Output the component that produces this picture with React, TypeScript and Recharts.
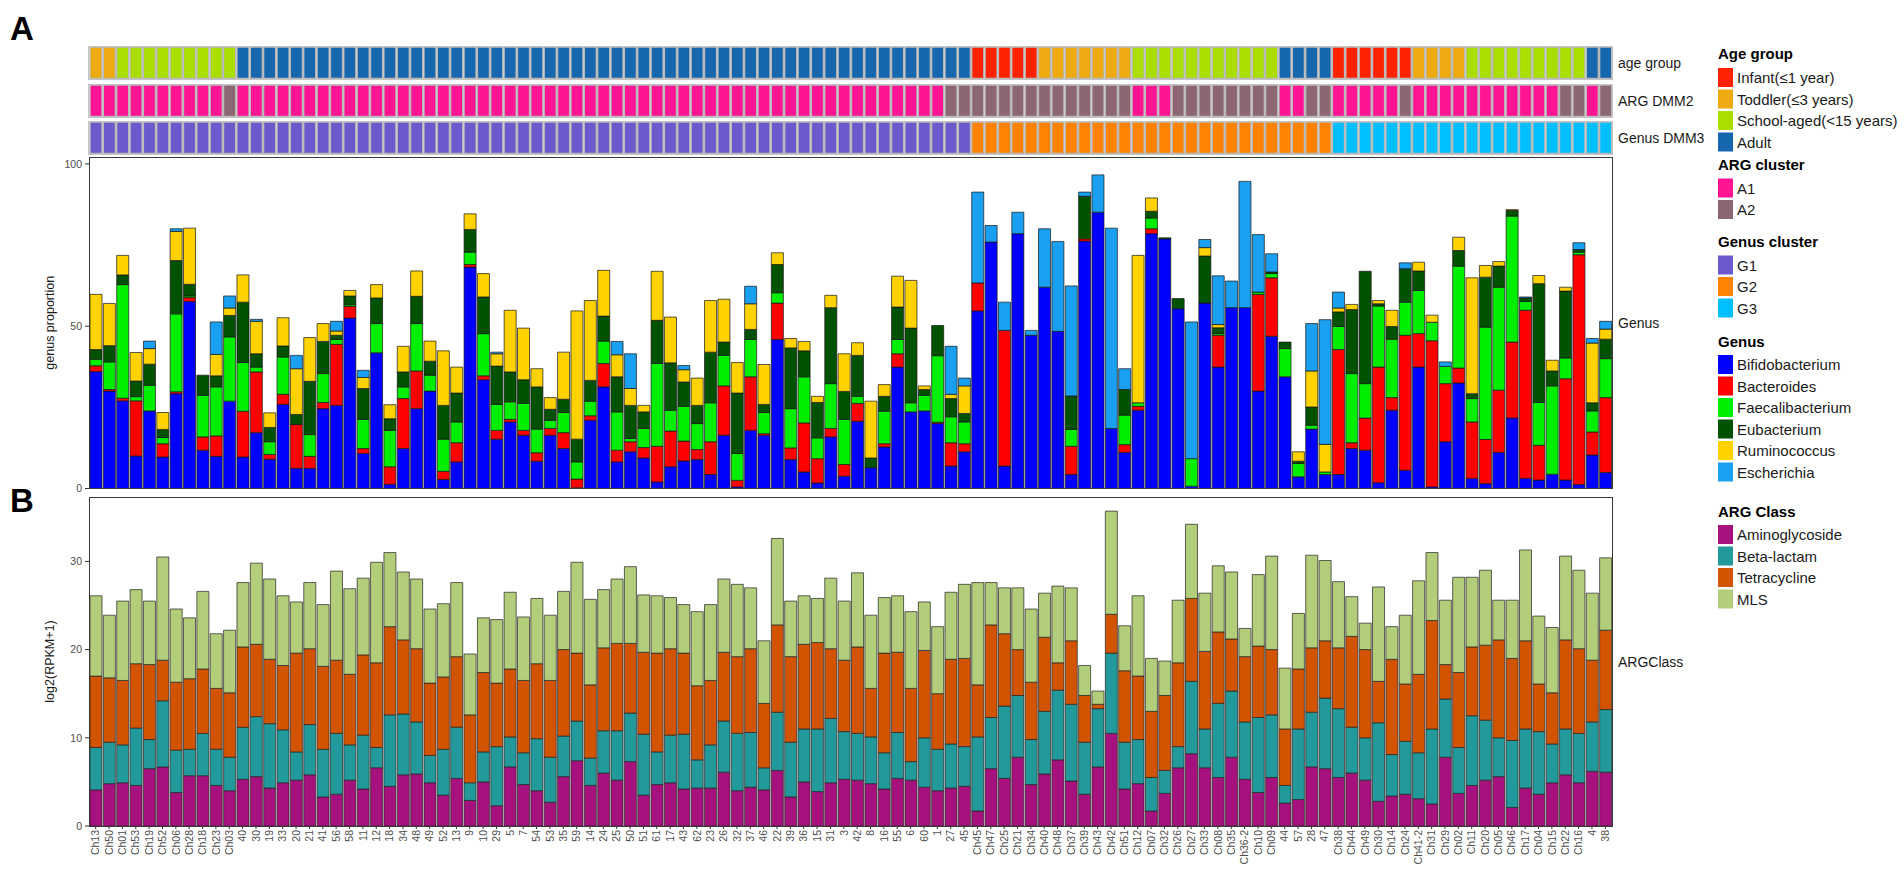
import React from 'react';
import { BarChart, Bar, XAxis, YAxis, Cell } from 'recharts';

const FONT = "'Liberation Sans', Arial, Helvetica, sans-serif";

// ---------------- data ----------------
const samples = ['Ch13','Ch50','Ch01','Ch53','Ch19','Ch52','Ch06','Ch28','Ch18','Ch23','Ch03','40','30','19','33','20','21','41','56','58','11','12','18','34','48','49','52','13','9','10','29','5','7','54','53','35','59','14','24','25','50','51','61','17','43','62','23','26','32','37','46','22','39','36','15','31','3','42','8','16','55','6','60','1','27','45','Ch45','Ch47','Ch25','Ch21','Ch34','Ch40','Ch48','Ch37','Ch39','Ch43','Ch42','Ch51','Ch12','Ch07','Ch32','Ch26','Ch27','Ch33','Ch08','Ch35','Ch36-2','Ch10','Ch09','44','57','28','47','Ch38','Ch44','Ch49','Ch30','Ch14','Ch24','Ch41-2','Ch31','Ch29','Ch02','Ch11','Ch20','Ch05','Ch46','Ch17','Ch04','Ch15','Ch22','Ch16','4','38'];

// age group codes: I Infant, T Toddler, S School-aged, A Adult
const ageGroupCodes = 'TT SSSSSSSSS AAAAAAAAAA AAAAAAAAAA AAAAAAAAAA AAAAAAAAAA AAAAAAAAAA AAAAA IIIII TTTTTTT SSSSSSSSSSS AAAA IIIIII TTTT SSSSSSSSS AA';
// ARG DMM2 cluster codes: 1 = A1, 2 = A2
const argClusterCodes = '1111111111 2 1111111111 1111111111 1111111111 1111111111 1111111111 111 22222222222222 111 22222222 11 22 11111 2 11111111111 22 1 2';
// Genus DMM3 cluster codes
const genusClusterCodes = '1111111111 1111111111 1111111111 1111111111 1111111111 1111111111 111111 2222222222 2222222222 2222222 3333333333 3333333333 3';

const bifidobacterium = [36,30,27,10,23.9,9.7,29.2,57.6,11.8,9.9,26.9,9.7,17.2,9,25.9,6.2,6.2,24.6,25.6,52.5,10.8,41.8,1.3,12.3,24.6,30,2.8,8.2,68.2,33.5,15.2,20.5,16.4,8.4,16.4,12.3,0.2,21,31.3,8.2,11.3,9.4,2,6.7,8.5,8.9,4.3,16.4,0.5,17.9,16.4,45.9,8.9,5.1,1.7,15.9,3.8,20.7,6.4,12.8,37.4,23.6,23.9,20,6.9,11.3,54.7,75.9,6.9,78.5,47.2,62,48.4,4.3,76.2,85.1,18.5,11.1,24.1,78.5,76.9,55.4,0.7,57.1,37.4,55.7,55.7,30,46.9,34.4,3.6,18.3,4.3,4.3,12.3,11.8,1.8,24.1,5.6,37.4,0.5,14.4,32.5,3.1,1.5,11.1,21.7,3.1,2.6,4.4,2.6,1.2,10.3,4.9];
const bacteroides = [1.8,0.5,0.8,17,0,4.1,0.6,1.2,4.1,6.3,0,14.1,18.7,1.5,3.1,13.5,3.7,1.9,18.8,3.6,1.5,0,5.4,15.4,11.6,0,2.5,5.9,0.8,1.2,2.7,0.8,1.5,2.6,2.1,4.9,2.7,1.4,7.2,3.6,3.1,3.2,11,11,6.1,3.1,10.1,15.2,2,16.5,0.5,11.2,3.6,15.1,7.5,2.6,3.6,5.5,0,1,4.1,0,0,0.4,7.2,2.5,8.6,0,41.8,0,0,0,0,8.7,0.7,0,0,2.4,1.2,1.5,0,0,0,0,9.8,0,0,29.8,18,0,0,0,0,38.5,1.8,9.9,35.6,3.9,41.6,10.3,45,17.9,4.6,17.4,13.6,19.2,23.4,51.8,10.7,0,31.2,70.8,7.1,23.1];
const faecalibacterium = [2,8.5,35,1.3,7.9,1.9,24,0.5,12.8,15.1,19.8,15,1.5,3.9,11.5,0,6.7,8.9,1.5,0.5,9,9,11.2,3.6,14.6,4.9,9.9,6.4,3.8,13,8,5.4,8.3,7.3,2.5,6.2,5.3,4.5,6.9,11.8,1,5.9,25.5,6.4,10.7,8,12,9.4,8.3,11.5,6.5,3.2,12.1,14.2,6.4,13.8,13.9,2.2,0,10,4.4,2.8,4.8,20.5,8,6.7,0,0,0,0,0,0,0,5.2,0,0,0,9.1,1.1,3.3,0,0,8.5,0,0.5,0,0,0.7,1.3,8.7,4.1,1.2,0.8,7.1,21.3,10.6,18.8,18,10.2,13.3,5.7,5.3,31.4,7.2,34.6,31.7,38.8,2.7,13.2,27.2,6.4,0.8,6.5,12];
const eubacterium = [3,5,3,4.8,6.5,2.5,16.4,3.6,6.2,3.4,6.6,18.6,4.1,4.4,3.4,3.1,16.4,9.9,1.3,2.7,9.5,7.9,3.6,4.6,8.4,4.3,10.4,8.9,7,11.3,11.8,9.2,7.3,13,3.4,4.1,7,6.4,7.7,10.8,10.2,5.1,13.3,14.6,7.5,5.6,15.6,4.1,18.6,3.1,2.5,8.7,18.7,8,10.9,23.4,8.6,12.6,3,4.6,10,23,1.8,9.3,5.6,2.6,0,0,0,0,0,0,0,10.3,13.1,0,0,7.9,0,2.1,0.3,3.1,0,14.5,1.8,0,0,0,0.5,2,0.7,5.6,0,4.5,19.7,34.6,0.7,3.9,10.3,6,0,0,4.8,1.5,15.4,6.5,1.7,1.1,36.6,4.6,20.6,0.8,2.5,6];
const ruminococcus = [17,13,6,8.8,4.8,5.2,9,17.3,0,6.6,2.3,8.4,10,4.5,8.7,14.1,13.5,5.5,1.3,1.7,3.4,4.1,4.3,7.9,7.8,6.2,16.8,8,4.8,7.2,3.8,19,15.9,5.6,3.6,14.5,39.5,24.6,14.1,6.8,5.2,2,15.1,14.1,3.8,8.4,15.9,13.2,9.4,7.9,12.3,3.6,2.9,2.9,1.9,3.8,11.6,3.9,17.5,3.6,9.5,14.7,1.1,0,1.3,8.5,0,0,0,0,0,0,0,0,0,0,0,0,45.4,4.1,0,0,0,2.6,1,0,0,0,0,0,2.9,11.1,8.5,1.2,1.6,0,1,5,0,2.7,2.2,0,4.1,35.7,3.6,1.4,0.3,0,2.5,3.3,1.2,0,18.4,3.1];
const escherichia = [0,0,0,0,2.3,0,0.8,0,0,10,3.7,0,0.6,0,0,4.1,0,0,3,0,2.2,0,0,0,0,0,0,0,0,0,0.5,0,0,0,0,0,0,0,0,4.1,10.7,0,0,0,1.3,0,0,0,0,5.4,0,0,0,0,0,0,0,0,0,0,0,0,0,0,14.8,2.4,28,5.1,8.7,6.6,1.5,18,27.7,33.9,1.3,11.5,61.7,6.4,0,0,0,0,42.1,2.5,15,8.2,38.9,17.7,5.6,0,0,14.6,38.4,4.9,0,0,0,0,1.8,0,0,1.4,0,0,0,0,0,0.3,0,0,0,2.1,1.4,2.4];

const aminoglycoside = [4.1,4.8,4.9,4.6,6.5,6.7,3.8,5.7,5.7,4.6,4.0,5.3,5.6,4.3,4.9,5.2,5.8,3.3,3.6,5.2,4.2,6.6,4.5,5.8,5.9,4.9,3.5,5.4,2.9,5.0,2.3,6.7,4.7,4.0,2.7,5.6,7.4,4.6,6.0,5.2,7.3,3.5,4.7,4.9,4.2,4.3,4.3,6.1,4.0,4.4,4.1,6.3,3.3,5.0,3.9,4.9,5.3,5.2,4.8,4.2,5.4,5.2,4.4,4.0,4.3,4.5,1.7,6.5,5.4,7.8,4.7,5.9,7.5,5.1,3.6,6.7,10.5,4.2,4.8,1.7,3.7,6.6,8.2,6.6,5.5,7.8,5.3,3.8,5.5,2.6,3.0,6.7,6.5,5.5,6.0,5.2,2.8,3.4,3.6,3.1,2.5,7.8,3.7,4.6,5.2,5.6,2.1,4.3,3.6,4.9,5.8,4.9,6.2,6.1];
const betaLactam = [4.8,4.7,4.3,6.5,3.3,7.5,4.8,3.0,4.8,4.1,3.8,5.9,6.8,7.3,6.0,3.2,5.7,5.4,6.9,4.0,6.1,2.3,8.1,6.9,5.9,3.1,5.2,5.8,2.0,3.4,6.7,3.4,3.6,5.9,5.1,4.6,4.5,3.1,4.8,5.6,5.5,6.9,3.7,5.4,6.2,3.2,4.9,5.8,6.5,6.2,2.5,6.6,6.2,6.0,7.1,7.3,5.4,5.3,5.3,4.1,5.2,2.1,5.6,4.7,5.0,4.5,8.4,5.8,8.2,7.0,5.1,7.1,7.9,8.7,5.9,6.6,9.1,5.3,5.0,3.8,2.6,2.4,8.2,4.4,8.4,7.5,6.5,8.5,7.1,2.0,8.0,6.2,8.0,7.8,5.2,4.8,8.9,4.7,6.0,5.2,8.5,6.6,5.2,7.9,6.8,4.4,7.6,6.7,7.1,4.4,5.2,5.6,5.6,7.1];
const tetracycline = [8.1,7.3,7.3,7.3,8.5,4.6,7.7,8.0,7.3,6.9,7.3,9.1,8.2,7.3,7.3,11.2,8.6,9.4,8.3,8.0,9.1,9.6,10.0,8.4,8.3,8.2,8.2,8.0,7.7,9.0,7.2,7.7,8.2,8.5,8.7,9.8,7.7,8.3,9.4,9.9,7.9,9.3,11.2,9.8,9.2,8.4,7.3,7.8,8.7,9.5,7.3,9.9,9.7,9.6,9.8,7.9,8.1,9.8,5.5,11.3,9.1,8.3,9.9,6.3,9.6,10.0,5.9,10.5,8.2,5.2,6.5,8.4,3.1,7.2,5.3,0.5,4.4,8.1,7.2,7.5,8.5,9.5,9.4,8.8,8.1,5.9,7.4,8.1,7.4,6.4,6.8,7.3,6.5,6.9,10.3,10.0,4.7,10.8,6.5,8.9,12.3,3.9,8.5,7.8,8.5,11.1,9.3,10.0,5.4,5.8,10.1,9.6,7.0,9.0];
const mls = [9.1,7.1,9.0,8.4,7.2,11.7,8.3,6.9,8.8,6.2,7.1,7.3,9.2,9.1,7.9,5.8,7.5,7.0,10.1,9.7,8.7,11.4,8.4,7.7,7.9,8.4,8.3,8.4,6.9,6.2,7.2,8.7,7.2,7.4,7.4,6.6,10.3,9.7,6.6,7.3,8.7,6.5,6.5,5.8,5.5,8.4,8.6,8.3,8.2,6.9,7.1,9.8,6.3,5.5,5.0,8.0,6.7,8.4,8.3,6.3,6.4,8.7,5.5,7.6,7.6,8.4,11.6,4.8,5.2,7.0,8.3,5.0,8.7,6.0,3.4,1.5,11.7,5.1,9.1,6.0,3.9,7.1,8.4,6.6,7.5,7.6,3.2,8.1,10.6,6.9,6.3,10.5,9.1,7.5,4.5,3.0,10.7,3.7,7.8,10.6,7.7,7.3,10.8,7.9,8.5,4.5,6.6,10.3,7.7,7.4,9.5,8.9,7.6,8.2];

const genusTicks = [0, 50, 100];
const argTicks = [0, 10, 20, 30];

// legend categories & colours
const ageLegend = [
  { code: 'I', label: 'Infant(≤1 year)', color: '#FF2200' },
  { code: 'T', label: 'Toddler(≤3 years)', color: '#EEAA11' },
  { code: 'S', label: 'School-aged(<15 years)', color: '#AADD00' },
  { code: 'A', label: 'Adult', color: '#1767AF' },
];
const argClusterLegend = [
  { code: '1', label: 'A1', color: '#FF1493' },
  { code: '2', label: 'A2', color: '#8C6670' },
];
const genusClusterLegend = [
  { code: '1', label: 'G1', color: '#6A5ACD' },
  { code: '2', label: 'G2', color: '#FF8300' },
  { code: '3', label: 'G3', color: '#00BFFF' },
];
const genusLegend = [
  { key: 'Bifidobacterium', values: bifidobacterium, color: '#0000FF' },
  { key: 'Bacteroides', values: bacteroides, color: '#FF0000' },
  { key: 'Faecalibacterium', values: faecalibacterium, color: '#00EE00' },
  { key: 'Eubacterium', values: eubacterium, color: '#005200' },
  { key: 'Ruminococcus', values: ruminococcus, color: '#FFD200' },
  { key: 'Escherichia', values: escherichia, color: '#1AA0F0' },
];
const argClassLegend = [
  { key: 'Aminoglycoside', values: aminoglycoside, color: '#A6117E' },
  { key: 'Beta-lactam', values: betaLactam, color: '#22999A' },
  { key: 'Tetracycline', values: tetracycline, color: '#D25400' },
  { key: 'MLS', values: mls, color: '#B3CE7B' },
];

// ---------------- layout ----------------
const W = 1904;
const H = 871;
const PLOT_L = 89;
const PLOT_R = 1612;
const PLOT_W = PLOT_R - PLOT_L;
const CHART_W = 1620;
const ROW_H = 31.5;
const ROW_TOPS = [47, 85, 122];
const A_TOP = 157.5;
const A_BOT = 488;
const B_TOP = 497;
const B_BOT = 826;
const X_AXIS_H = 45;
const BAR_SIZE = PLOT_W / samples.length;

const codes = (s: string) => s.replace(/\s+/g, '').split('');

function AnnoRow({ top, codeStr, legend }: { top: number; codeStr: string; legend: { code: string; color: string }[] }) {
  const cs = codes(codeStr);
  const data = samples.map((s, i) => ({ sample: s, one: 1, code: cs[i] }));
  const colorOf = (c: string) => (legend.find((l) => l.code === c) || legend[0]).color;
  return (
    <div style={{ position: 'absolute', left: 0, top, width: CHART_W, height: ROW_H }}>
      <BarChart width={CHART_W} height={ROW_H} data={data} margin={{ top: 0, right: CHART_W - PLOT_R, bottom: 0, left: PLOT_L }} barCategoryGap={0} barGap={0}>
        <XAxis dataKey="sample" hide />
        <YAxis hide domain={[0, 1]} />
        <Bar dataKey="one" isAnimationActive={false} stroke="#b9b9b9" strokeWidth={1.3} barSize={BAR_SIZE}>
          {data.map((d, i) => (
            <Cell key={i} fill={colorOf(d.code)} />
          ))}
        </Bar>
      </BarChart>
      <div style={{ position: 'absolute', left: PLOT_L - 1, top: -1, width: PLOT_W + 2, height: ROW_H + 2, border: '1.5px solid #c4c4c4', boxSizing: 'border-box', pointerEvents: 'none' }} />
    </div>
  );
}

const XTick = (props: any) => {
  const { x, y, payload } = props;
  return (
    <g transform={`translate(${x},${y})`}>
      <text x={0} y={0} dy="0.35em" textAnchor="end" transform="rotate(-90)" fontSize={10.5} fill="#4d4d4d" fontFamily={FONT}>
        {payload.value}
      </text>
    </g>
  );
};

function Box({ top, bottom }: { top: number; bottom: number }) {
  return <div style={{ position: 'absolute', left: PLOT_L - 0.5, top: top - 0.5, width: PLOT_W + 1, height: bottom - top + 1, border: '1px solid #3a3a3a', boxSizing: 'border-box', pointerEvents: 'none' }} />;
}

export default function App() {
  const genusData = samples.map((s, i) => {
    const row: any = { sample: s };
    genusLegend.forEach((g) => (row[g.key] = g.values[i]));
    return row;
  });
  const argData = samples.map((s, i) => {
    const row: any = { sample: s };
    argClassLegend.forEach((g) => (row[g.key] = g.values[i]));
    return row;
  });

  const tickStyle = { fontSize: 10.5, fill: '#4d4d4d', fontFamily: FONT };

  const legendBlocks = [
    { title: 'Age group', titleY: 53.5, firstY: 77.5, items: ageLegend.map((a) => ({ label: a.label, color: a.color })) },
    { title: 'ARG cluster', titleY: 164, firstY: 188, items: argClusterLegend.map((a) => ({ label: a.label, color: a.color })) },
    { title: 'Genus cluster', titleY: 241.5, firstY: 265, items: genusClusterLegend.map((a) => ({ label: a.label, color: a.color })) },
    { title: 'Genus', titleY: 341, firstY: 364.5, items: genusLegend.map((a) => ({ label: a.key, color: a.color })) },
    { title: 'ARG Class', titleY: 511, firstY: 534.5, items: argClassLegend.map((a) => ({ label: a.key, color: a.color })) },
  ];
  const PITCH = 21.5;
  const GAP_A = 8; // extra room below panel A so its "0" label is not clipped

  return (
    <div style={{ position: 'absolute', left: 0, top: 0, width: W, height: H, background: '#ffffff', overflow: 'hidden', fontFamily: FONT }}>
      <AnnoRow top={ROW_TOPS[0]} codeStr={ageGroupCodes} legend={ageLegend} />
      <AnnoRow top={ROW_TOPS[1]} codeStr={argClusterCodes} legend={argClusterLegend} />
      <AnnoRow top={ROW_TOPS[2]} codeStr={genusClusterCodes} legend={genusClusterLegend} />

      <div style={{ position: 'absolute', left: 0, top: A_TOP }}>
        <BarChart width={CHART_W} height={A_BOT - A_TOP + GAP_A} data={genusData} margin={{ top: 0, right: CHART_W - PLOT_R, bottom: GAP_A, left: 0 }} barCategoryGap={0} barGap={0}>
          <XAxis dataKey="sample" hide />
          <YAxis width={PLOT_L} domain={[0, 101.8]} ticks={genusTicks} allowDataOverflow axisLine={false} tickLine={{ stroke: '#333' }} tickSize={4} tickMargin={3} tick={tickStyle} interval={0} />
          {genusLegend.map((g) => (
            <Bar key={g.key} dataKey={g.key} stackId="g" fill={g.color} stroke="#151515" strokeWidth={0.7} isAnimationActive={false} barSize={BAR_SIZE} />
          ))}
        </BarChart>
      </div>
      <Box top={A_TOP} bottom={A_BOT} />

      <div style={{ position: 'absolute', left: 0, top: B_TOP }}>
        <BarChart width={CHART_W} height={B_BOT - B_TOP + X_AXIS_H} data={argData} margin={{ top: 0, right: CHART_W - PLOT_R, bottom: 0, left: 0 }} barCategoryGap={0} barGap={0}>
          <XAxis dataKey="sample" height={X_AXIS_H} interval={0} tick={<XTick />} tickLine={{ stroke: '#333' }} tickSize={3} tickMargin={1} axisLine={false} />
          <YAxis width={PLOT_L} domain={[0, 37.3]} ticks={argTicks} allowDataOverflow axisLine={false} tickLine={{ stroke: '#333' }} tickSize={4} tickMargin={3} tick={tickStyle} interval={0} />
          {argClassLegend.map((g) => (
            <Bar key={g.key} dataKey={g.key} stackId="a" fill={g.color} stroke="#222" strokeWidth={0.7} isAnimationActive={false} barSize={BAR_SIZE} />
          ))}
        </BarChart>
      </div>
      <Box top={B_TOP} bottom={B_BOT} />

      <svg width={W} height={H} style={{ position: 'absolute', left: 0, top: 0, pointerEvents: 'none' }} fontFamily={FONT}>
        <text x={10} y={40} fontSize={33} fontWeight="bold" fill="#000">A</text>
        <text x={10} y={512} fontSize={33} fontWeight="bold" fill="#000">B</text>

        <text x={1618} y={ROW_TOPS[0] + ROW_H / 2 + 5} fontSize={14} fill="#1a1a1a">age group</text>
        <text x={1618} y={ROW_TOPS[1] + ROW_H / 2 + 5} fontSize={14} fill="#1a1a1a">ARG DMM2</text>
        <text x={1618} y={ROW_TOPS[2] + ROW_H / 2 + 5} fontSize={14} fill="#1a1a1a">Genus DMM3</text>
        <text x={1618} y={(A_TOP + A_BOT) / 2 + 5} fontSize={14} fill="#1a1a1a">Genus</text>
        <text x={1618} y={(B_TOP + B_BOT) / 2 + 5} fontSize={14} fill="#1a1a1a">ARGClass</text>

        <text transform={`translate(53.5,${(A_TOP + A_BOT) / 2}) rotate(-90)`} textAnchor="middle" fontSize={12.5} fill="#1a1a1a">genus proportion</text>
        <text transform={`translate(53.5,${(B_TOP + B_BOT) / 2}) rotate(-90)`} textAnchor="middle" fontSize={12.5} fill="#1a1a1a">log2(RPKM+1)</text>

        {legendBlocks.map((b) => (
          <g key={b.title}>
            <text x={1718} y={b.titleY + 5.5} fontSize={15} fontWeight="bold" fill="#000">{b.title}</text>
            {b.items.map((it, k) => {
              const cy = b.firstY + k * PITCH;
              return (
                <g key={it.label}>
                  <rect x={1718} y={cy - 9.5} width={15} height={19} fill={it.color} />
                  <text x={1737} y={cy + 5.5} fontSize={15} fill="#1a1a1a">{it.label}</text>
                </g>
              );
            })}
          </g>
        ))}
      </svg>
    </div>
  );
}
